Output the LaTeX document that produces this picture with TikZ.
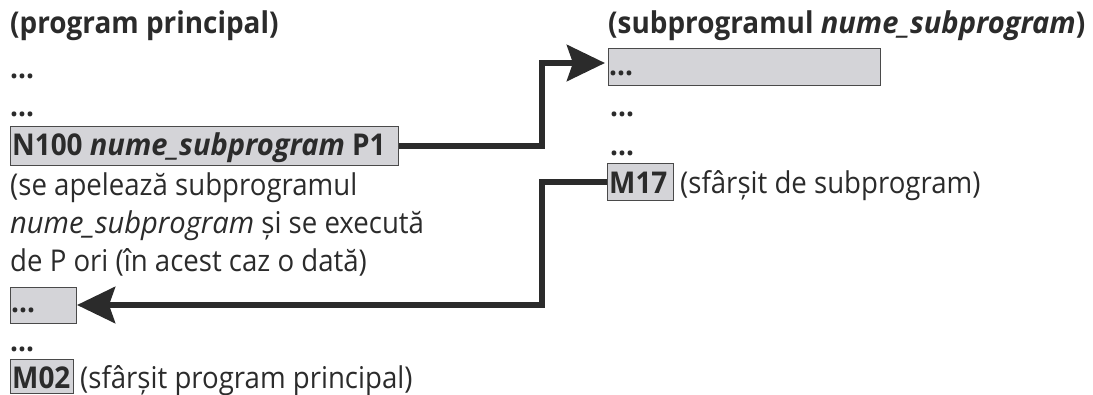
\documentclass[tikz,border=0pt]{standalone}
\usepackage{fontspec}
\setmainfont{Open Sans}[FakeStretch=0.92,
  ItalicFeatures={FakeStretch=0.97},
  BoldFeatures={FakeStretch=0.93},
  BoldItalicFeatures={FakeStretch=0.97}]
\usetikzlibrary{arrows.meta}
\definecolor{ink}{HTML}{2B2B2B}
\definecolor{boxfill}{HTML}{D4D4D8}
\definecolor{boxline}{HTML}{4A4A4A}
\tikzset{
  txt/.style={inner sep=0pt, anchor=base west, text=ink, font=\fontsize{30}{34}\selectfont},
  hd/.style={txt, font=\fontsize{30}{34}\selectfont\bfseries},
  cbox/.style={draw=boxline, fill=boxfill, line width=1.4pt, inner sep=0pt, anchor=north west},
  flow/.style={draw=ink, line width=6.5pt, line join=miter,
    -{Stealth[length=38pt,width=36pt,inset=6pt]}},
}
\begin{document}
\begin{tikzpicture}[x=1pt,y=-1pt]
\useasboundingbox (0,0) rectangle (1093,394);

% main program column
\node[hd] (hmain) at (10,33) {(program principal)};
\node[hd] (d1) at (10,78) {...};
\node[hd] (d2) at (10,116) {...};
\node[cbox, minimum width=388pt, minimum height=39pt] (n100) at (10,126) {};
\node[hd] (n100t) at (12,155) {N100 \textit{nume\_subprogram} P1};
\node[txt] (c1) at (10,195) {(se apelează subprogramul};
\node[txt] (c2) at (10,233) {\textit{nume\_subprogram} și se execută};
\node[txt] (c3) at (10,271) {de P ori (în acest caz o dată)};
\node[cbox, minimum width=66pt, minimum height=36pt] (back) at (10,287) {};
\node[hd] (backt) at (11,312) {...};
\node[hd] (d3) at (10,351) {...};
\node[cbox, minimum width=63pt, minimum height=34pt] (m02) at (10,359) {};
\node[hd] (m02t) at (12,388) {M02};
\node[txt] (m02c) at (80,388) {(sfârșit program principal)};

% subprogram column
\node[hd] (hsub) at (608,33) {(subprogramul \textit{nume\_subprogram})};
\node[cbox, minimum width=272pt, minimum height=37pt] (sbox) at (608,48) {};
\node[hd] (sboxt) at (609,75) {...};
\node[hd] (d4) at (610,116) {...};
\node[hd] (d5) at (610,155) {...};
\node[cbox, minimum width=66pt, minimum height=37pt] (m17) at (607,163) {};
\node[hd] (m17t) at (609,193) {M17};
\node[txt] (m17c) at (680,193) {(sfârșit de subprogram)};

% call and return connectors
\coordinate (bend1) at (542,63);
\coordinate (subin) at (605,63);
\coordinate (bend2) at (542,305);
\coordinate (retin) at (77,305);
\draw[flow] (n100.east) -| (bend1) -- (subin);
\draw[flow] (m17.west) -| (bend2) -- (retin);
\end{tikzpicture}
\end{document}
